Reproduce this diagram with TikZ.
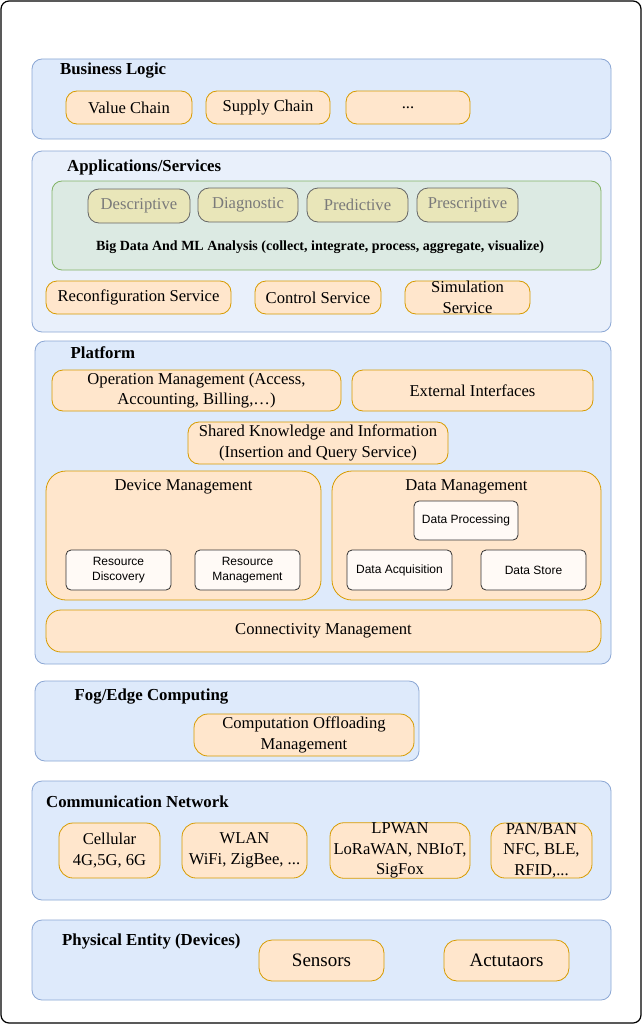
\documentclass[tikz,border=0pt]{standalone}
\usepackage{fontspec}
\setmainfont{Liberation Serif}
\setsansfont{Liberation Sans}
\definecolor{layerfill}{HTML}{DEEAFB}
\definecolor{appfill}{HTML}{E9F0FB}
\definecolor{layerline}{HTML}{8BA7D4}
\definecolor{ofill}{HTML}{FFE6CC}
\definecolor{oline}{HTML}{D79B00}
\definecolor{gfill}{HTML}{DCEAE3}
\definecolor{gline}{HTML}{82B366}
\definecolor{yfill}{HTML}{E9E6B9}
\definecolor{yline}{HTML}{666666}
\definecolor{ytext}{HTML}{7A7A7A}
\definecolor{wfill}{HTML}{FFFAF6}
\definecolor{wline}{HTML}{333333}
\begin{document}
\begin{tikzpicture}[x=1pt,y=-1pt,
  frame/.style={draw=black, line width=1.2pt, rounded corners=8pt},
  layer/.style={draw=layerline, fill=layerfill, line width=0.8pt, rounded corners=10pt, inner sep=0pt},
  obox/.style={draw=oline, fill=ofill, line width=0.8pt, rounded corners=11pt, inner sep=0pt,
    align=center, font=\fontsize{16.6}{20.5}\selectfont},
  ybox/.style={draw=yline, fill=yfill, line width=0.8pt, rounded corners=11pt, inner sep=0pt,
    text=ytext, font=\fontsize{16.6}{20}\selectfont},
  gbox/.style={draw=gline, fill=gfill, line width=0.8pt, rounded corners=10pt, inner sep=0pt},
  wbox/.style={draw=wline, fill=wfill, line width=0.8pt, rounded corners=5pt, inner sep=0pt,
    align=center, font=\sffamily\fontsize{12}{15}\selectfont},
  title/.style={anchor=west, inner sep=0pt, font=\bfseries\fontsize{16.8}{20}\selectfont},
  subtitle/.style={inner sep=0pt, font=\fontsize{16.6}{20}\selectfont}
]
\useasboundingbox (0,0) rectangle (643,1025);
\fill[white] (0,0) rectangle (643,1025);
\node[frame, minimum width=640pt, minimum height=1022pt] (outer) at (321,512) {};

% Business logic layer
\node[layer, minimum width=579pt, minimum height=80pt] (business) at (321.5,99) {};
\node[title] (businessT) at (60,70.5) {Business Logic};
\node[obox, minimum width=126pt, minimum height=33pt] (value) at (129,107.5) {Value Chain};
\node[obox, minimum width=124pt, minimum height=33pt] (supply) at (268,107.5) {Supply Chain};
\node[obox, minimum width=124pt, minimum height=33pt] (more) at (408,107.5) {...};

% Applications and services layer
\node[layer, fill=appfill, minimum width=579pt, minimum height=181pt] (apps) at (321.5,241.5) {};
\node[title] (appsT) at (67,167.5) {Applications/Services};
\node[gbox, minimum width=549pt, minimum height=89pt] (bigdata) at (326.5,225.5) {};
\node[ybox, minimum width=102pt, minimum height=34pt] (descr) at (139,206) {Descriptive};
\node[ybox, minimum width=100pt, minimum height=34pt] (diagn) at (248,205) {Diagnostic};
\node[ybox, minimum width=101pt, minimum height=34pt] (predi) at (357.5,205) {Predictive};
\node[ybox, minimum width=101pt, minimum height=34pt] (presc) at (467.5,205) {Prescriptive};
\node[inner sep=0pt, font=\bfseries\fontsize{14}{16}\selectfont] (bigdataT) at (320,247)
  {Big Data And ML Analysis (collect, integrate, process, aggregate, visualize)};
\node[obox, minimum width=185pt, minimum height=33pt] (reconf) at (138.5,297.5) {Reconfiguration Service};
\node[obox, minimum width=126pt, minimum height=33pt] (control) at (318,297.5) {Control Service};
\node[obox, minimum width=125pt, minimum height=33pt] (simul) at (467.5,297.5) {Simulation\\Service};

% Platform layer
\node[layer, minimum width=576pt, minimum height=323pt] (platform) at (323,502.5) {};
\node[title] (platformT) at (70.5,353) {Platform};
\node[obox, minimum width=289pt, minimum height=41pt] (oper) at (196.5,390.5)
  {Operation Management (Access,\\Accounting, Billing,\dots)};
\node[obox, minimum width=241pt, minimum height=41pt] (extif) at (472.5,390.5) {External Interfaces};
\node[obox, minimum width=260pt, minimum height=42pt] (shared) at (318,443)
  {Shared Knowledge and Information\\(Insertion and Query Service)};
\node[obox, rounded corners=20pt, minimum width=275pt, minimum height=129pt] (devmgmt) at (183.5,535.5) {};
\node[subtitle] (devmgmtT) at (183.5,487) {Device Management};
\node[obox, rounded corners=20pt, minimum width=269pt, minimum height=129pt] (datamgmt) at (466.5,535.5) {};
\node[subtitle] (datamgmtT) at (466.5,487) {Data Management};
\node[wbox, minimum width=105pt, minimum height=40pt] (resdisc) at (118.5,570) {Resource\\Discovery};
\node[wbox, minimum width=105pt, minimum height=40pt] (resmgmt) at (247.5,570) {Resource\\Management};
\node[wbox, minimum width=104pt, minimum height=39pt] (dataproc) at (466,520.5) {Data Processing};
\node[wbox, minimum width=105pt, minimum height=40pt] (dataacq) at (399.5,570) {Data Acquisition};
\node[wbox, minimum width=105pt, minimum height=40pt] (datastore) at (533.5,570) {Data Store};
\node[obox, rounded corners=15pt, minimum width=555pt, minimum height=42pt] (connect) at (323.5,631) {Connectivity Management};

% Fog / edge layer
\node[layer, minimum width=384pt, minimum height=80pt] (fog) at (227,721) {};
\node[title] (fogT) at (74.5,697) {Fog/Edge Computing};
\node[obox, rounded corners=14pt, minimum width=220pt, minimum height=42pt] (offload) at (304,735)
  {Computation Offloading\\Management};

% Communication network layer
\node[layer, minimum width=579pt, minimum height=119pt] (comm) at (321.5,840.5) {};
\node[title] (commT) at (46,802) {Communication Network};
\node[obox, rounded corners=14pt, minimum width=101pt, minimum height=55pt] (cell) at (109.5,850.5) {Cellular\\4G,5G, 6G};
\node[obox, rounded corners=14pt, minimum width=125pt, minimum height=55pt] (wlan) at (244.5,850.5) {WLAN\\WiFi, ZigBee, ...};
\node[obox, rounded corners=14pt, minimum width=140pt, minimum height=55pt] (lpwan) at (400,850.5) {LPWAN\\LoRaWAN, NBIoT,\\SigFox};
\node[obox, rounded corners=14pt, minimum width=101pt, minimum height=55pt] (pan) at (541.5,850.5) {PAN/BAN\\NFC, BLE,\\RFID,...};

% Physical entity layer
\node[layer, minimum width=579pt, minimum height=80pt] (phys) at (321.5,960) {};
\node[title] (physT) at (62,941.5) {Physical Entity (Devices)};
\node[obox, rounded corners=13pt, minimum width=125pt, minimum height=41pt, font=\fontsize{19}{22}\selectfont] (sensors) at (321.5,960.5) {Sensors};
\node[obox, rounded corners=13pt, minimum width=125pt, minimum height=41pt, font=\fontsize{19}{22}\selectfont] (actuators) at (506.5,960.5) {Actutaors};
\end{tikzpicture}
\end{document}
